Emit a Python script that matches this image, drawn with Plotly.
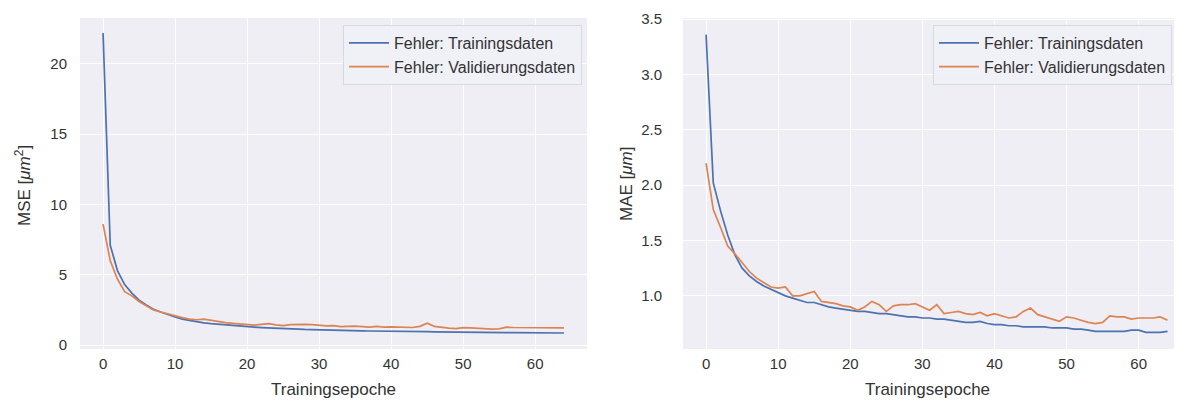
import plotly.graph_objects as go

epochs = list(range(65))

mse_train = [22.2, 7.1, 5.3, 4.3, 3.7, 3.2, 2.85, 2.55, 2.35, 2.15, 2.0, 1.85, 1.75, 1.65, 1.58,
             1.52, 1.47, 1.42, 1.38, 1.34, 1.30, 1.27, 1.24, 1.21, 1.19, 1.17, 1.15, 1.13, 1.11, 1.10,
             1.08, 1.07, 1.06, 1.05, 1.04, 1.02, 1.01, 1.00, 1.00, 0.99, 0.98, 0.97, 0.96, 0.96, 0.95,
             0.95, 0.94, 0.94, 0.93, 0.93, 0.92, 0.91, 0.91, 0.90, 0.89, 0.89, 0.89, 0.88, 0.88, 0.88,
             0.88, 0.86, 0.86, 0.86, 0.86]
mse_val = [8.6, 6.0, 4.7, 3.8, 3.5, 3.1, 2.8, 2.5, 2.35, 2.2, 2.05, 1.95, 1.85, 1.8, 1.85,
           1.75, 1.65, 1.6, 1.55, 1.5, 1.45, 1.42, 1.47, 1.52, 1.44, 1.38, 1.45, 1.48, 1.47, 1.45,
           1.41, 1.36, 1.38, 1.31, 1.33, 1.35, 1.31, 1.28, 1.33, 1.28, 1.30, 1.28, 1.25, 1.25, 1.33,
           1.55, 1.33, 1.24, 1.20, 1.17, 1.24, 1.22, 1.18, 1.15, 1.13, 1.15, 1.27, 1.25, 1.25, 1.22,
           1.23, 1.23, 1.24, 1.26, 1.22]

mae_train = [3.36, 2.02, 1.77, 1.55, 1.37, 1.25, 1.18, 1.13, 1.09, 1.06, 1.03, 1.00, 0.98, 0.96, 0.94,
             0.94, 0.92, 0.90, 0.89, 0.88, 0.87, 0.86, 0.86, 0.85, 0.84, 0.84, 0.83, 0.82, 0.81, 0.81,
             0.80, 0.80, 0.79, 0.79, 0.78, 0.77, 0.76, 0.76, 0.77, 0.75, 0.74, 0.74, 0.73, 0.73, 0.72,
             0.72, 0.72, 0.72, 0.71, 0.71, 0.71, 0.70, 0.70, 0.69, 0.68, 0.68, 0.68, 0.68, 0.68, 0.69,
             0.69, 0.67, 0.67, 0.67, 0.68]
mae_val = [2.20, 1.78, 1.62, 1.45, 1.38, 1.30, 1.22, 1.16, 1.12, 1.08, 1.07, 1.08, 1.00, 1.00, 1.02,
           1.04, 0.95, 0.94, 0.93, 0.91, 0.90, 0.87, 0.90, 0.95, 0.92, 0.86, 0.91, 0.92, 0.92, 0.93,
           0.90, 0.87, 0.92, 0.84, 0.85, 0.86, 0.84, 0.83, 0.85, 0.82, 0.84, 0.82, 0.80, 0.81, 0.86,
           0.89, 0.83, 0.81, 0.79, 0.77, 0.81, 0.80, 0.78, 0.76, 0.75, 0.76, 0.82, 0.81, 0.81, 0.79,
           0.80, 0.80, 0.80, 0.81, 0.78]

x_ticks = [0, 10, 20, 30, 40, 50, 60]
mse_ticks = [0, 5, 10, 15, 20]
mae_ticks = [1.0, 1.5, 2.0, 2.5, 3.0, 3.5]
mae_ticklabels = ["1.0", "1.5", "2.0", "2.5", "3.0", "3.5"]

name_train = "Fehler: Trainingsdaten"
name_val = "Fehler: Validierungsdaten"
x_title = "Trainingsepoche"
mse_title = "MSE [<i>μm</i><sup>2</sup>]"
mae_title = "MAE [<i>μm</i>]"

BLUE = "#4C72B0"
ORANGE = "#DD8452"
BG = "#EEEEF4"
TXT = "#333333"
FONT = "Liberation Sans, Arial, sans-serif"

fig = go.Figure()
fig.add_trace(go.Scatter(x=epochs, y=mse_train, mode="lines", name=name_train,
                         line=dict(color=BLUE, width=1.7), xaxis="x", yaxis="y", legend="legend"))
fig.add_trace(go.Scatter(x=epochs, y=mse_val, mode="lines", name=name_val,
                         line=dict(color=ORANGE, width=1.7), xaxis="x", yaxis="y", legend="legend"))
fig.add_trace(go.Scatter(x=epochs, y=mae_train, mode="lines", name=name_train,
                         line=dict(color=BLUE, width=1.7), xaxis="x2", yaxis="y2", legend="legend2"))
fig.add_trace(go.Scatter(x=epochs, y=mae_val, mode="lines", name=name_val,
                         line=dict(color=ORANGE, width=1.7), xaxis="x2", yaxis="y2", legend="legend2"))

# page body adds an 8px offset; figure fills the rest of the 1187x401 window
OFF = 8
W, H = 1187 - OFF, 401 - OFF
def px_x(p):
    return (p - OFF) / W
def px_y(p):
    return 1 - (p - OFF) / H

axis_common = dict(showgrid=True, gridcolor="white", gridwidth=1, zeroline=False, automargin=False,
                   showline=False, ticks="", tickfont=dict(size=15, color=TXT, family=FONT))

legend_common = dict(bgcolor="rgba(240,240,246,0.92)", bordercolor="#D8D8E0", borderwidth=1,
                     font=dict(size=16, color=TXT, family=FONT), xanchor="right", yanchor="top",
                     tracegroupgap=0, itemwidth=40)

fig.update_layout(
    width=W, height=H,
    margin=dict(l=0, r=0, t=0, b=0, autoexpand=False),
    paper_bgcolor="white",
    plot_bgcolor=BG,
    font=dict(family=FONT, color=TXT, size=15),
    xaxis=dict(domain=[px_x(80), px_x(587)], range=[-3.2, 67.2], tickvals=x_ticks,
               anchor="y", ticklabelstandoff=4, **axis_common),
    yaxis=dict(domain=[px_y(349), px_y(18)], range=[-0.28, 23.27], tickvals=mse_ticks,
               anchor="x", ticklabelstandoff=12, **axis_common),
    xaxis2=dict(domain=[px_x(683), px_x(1174)], range=[-3.2, 64.9], tickvals=x_ticks,
                anchor="y2", ticklabelstandoff=4, **axis_common),
    yaxis2=dict(domain=[px_y(349), px_y(18)], range=[0.52, 3.51], tickvals=mae_ticks,
                ticktext=mae_ticklabels, anchor="x2", ticklabelstandoff=20, **axis_common),
    legend=dict(x=px_x(582), y=px_y(25), **legend_common),
    legend2=dict(x=px_x(1172), y=px_y(25), **legend_common),
)

title_font = dict(size=17, color=TXT, family=FONT)
fig.add_annotation(text=x_title, xref="paper", yref="paper", x=px_x(333), y=px_y(389),
                   showarrow=False, font=title_font, xanchor="center", yanchor="middle")
fig.add_annotation(text=x_title, xref="paper", yref="paper", x=px_x(927), y=px_y(389),
                   showarrow=False, font=title_font, xanchor="center", yanchor="middle")
fig.add_annotation(text=mse_title, xref="paper", yref="paper", x=px_x(23), y=px_y(186),
                   showarrow=False, font=title_font, textangle=-90, xanchor="center", yanchor="middle")
fig.add_annotation(text=mae_title, xref="paper", yref="paper", x=px_x(626), y=px_y(184),
                   showarrow=False, font=title_font, textangle=-90, xanchor="center", yanchor="middle")

fig.write_html("out.html")
